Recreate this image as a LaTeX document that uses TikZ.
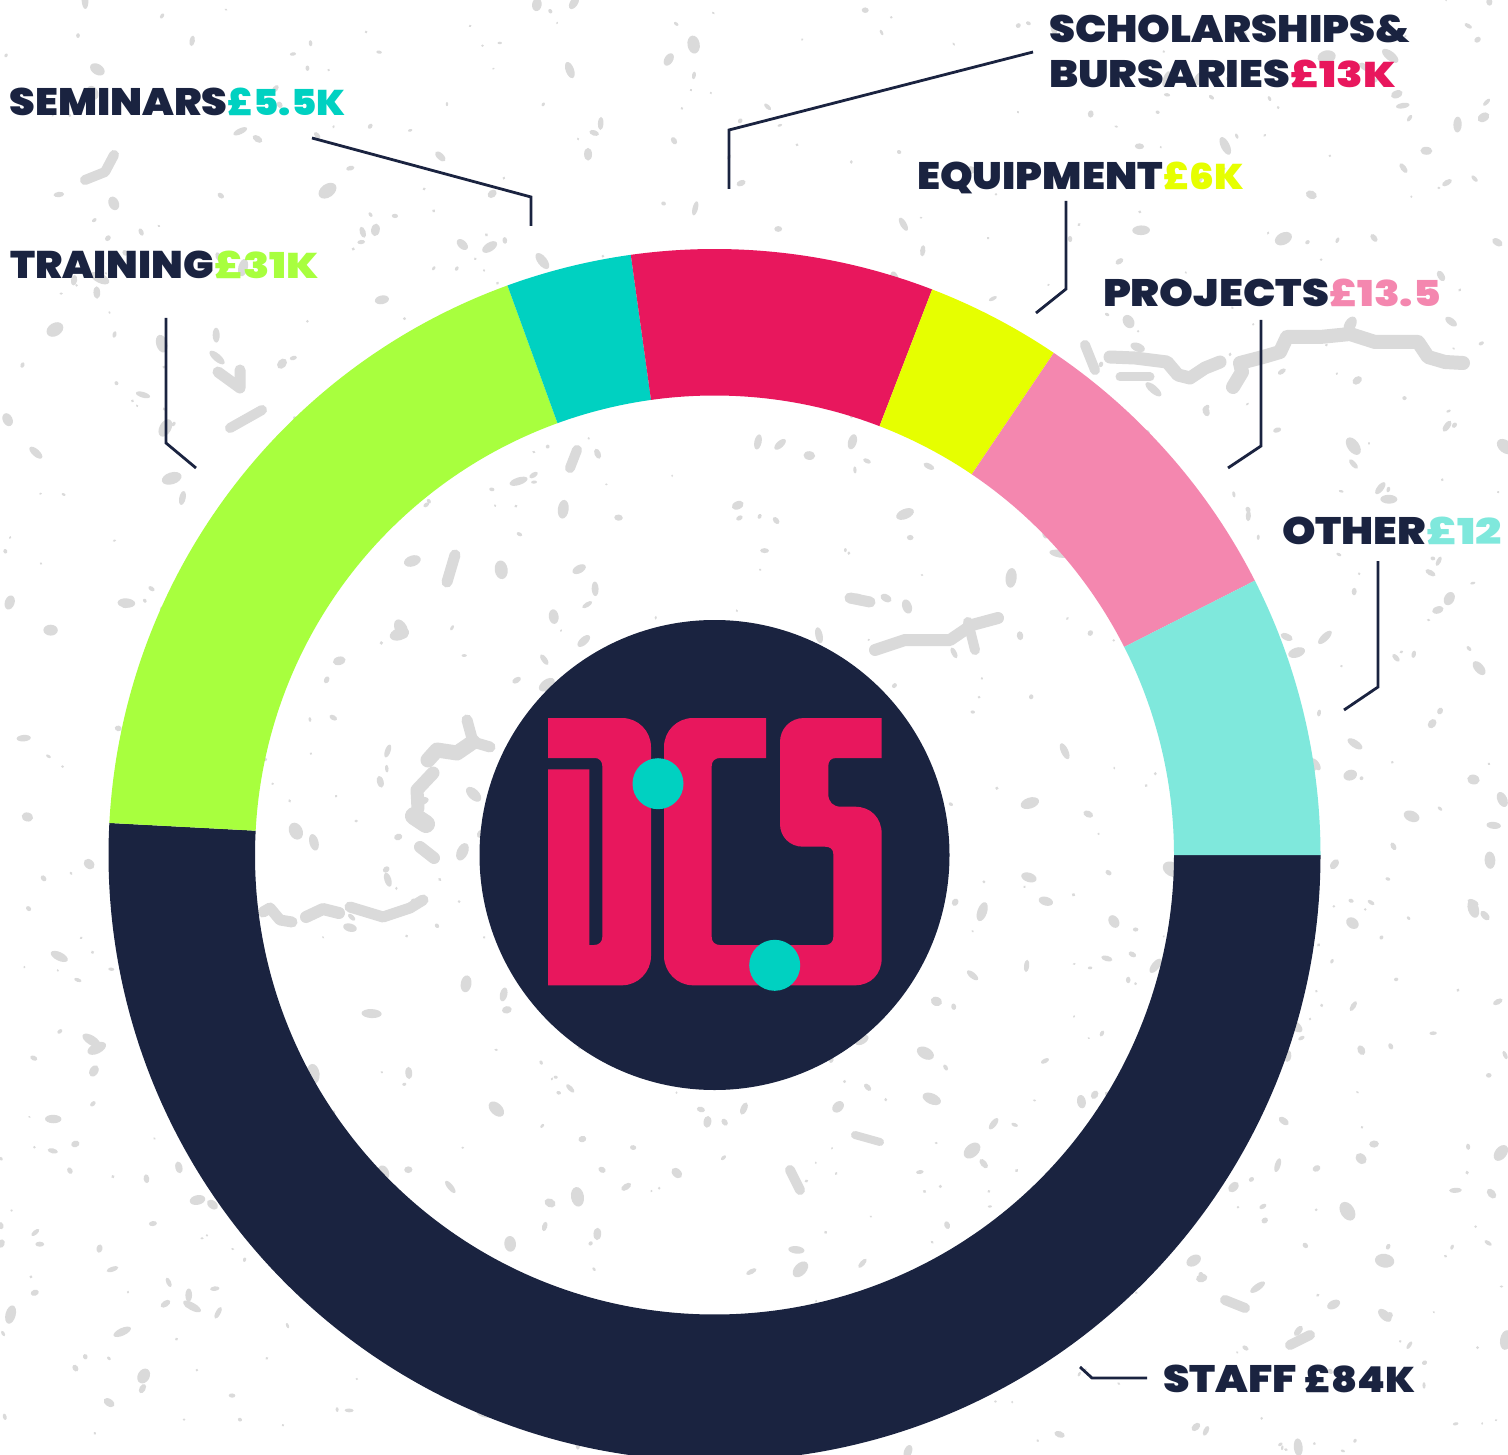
\documentclass[tikz,border=0pt]{standalone}
\usepackage{fontspec}
\usepackage{graphicx}
\newfontfamily\lab{Poppins Black}
\definecolor{navy}{HTML}{1A2340}
\definecolor{lime}{HTML}{A8FF3E}
\definecolor{teal2}{HTML}{00D1C1}
\definecolor{crim}{HTML}{E8175D}
\definecolor{yel}{HTML}{E6FF00}
\definecolor{pinky}{HTML}{F487AF}
\definecolor{aqua}{HTML}{7FE8DC}
\definecolor{speck}{HTML}{DADADA}
\newcommand{\seg}[3]{\fill[#1] (#2:606pt) arc[start angle=#2,end angle=#3,radius=606pt] -- (#3:459.5pt) arc[start angle=#3,end angle=#2,radius=459.5pt] -- cycle;}
\newcommand{\wbox}[3]{\textcolor{#3}{\resizebox{#1pt}{27.5pt}{\lab #2}}}
\tikzset{
  leader/.style={draw=navy,line width=2.8pt,line cap=butt,line join=miter},
  lbl/.style={anchor=base west,inner sep=0pt,outer sep=0pt},
  blob/.style={draw=speck,line cap=round,line join=round},
  dot/.style={circle,fill=teal2,inner sep=0pt,minimum size=51pt}
}
\begin{document}
\begin{tikzpicture}[x=1pt,y=-1pt]
\useasboundingbox (0,0) rectangle (1508,1455);
\fill[white] (0,0) rectangle (1508,1455);
\begin{scope}
\clip (0,0) rectangle (1508,1455);
% speckled background
\pgfmathsetseed{4711}
\foreach \i in {1,...,1000}{
  \pgfmathsetmacro{\px}{rnd*1508}
  \pgfmathsetmacro{\py}{rnd*1455}
  \pgfmathsetmacro{\ra}{1.3+pow(rnd,2.2)*9}
  \pgfmathsetmacro{\rb}{\ra*(0.3+rnd*0.4)+0.5}
  \pgfmathsetmacro{\rt}{rnd*180}
  \fill[speck,rotate around={\rt:(\px,\py)}] (\px,\py) ellipse[x radius=\ra pt,y radius=\rb pt];
}
% larger streaks
\draw[blob,line width=13pt] (1110,357) -- (1135,358) -- (1167,362) -- (1178,375) -- (1190,378) -- (1205,368) -- (1220,362);
\draw[blob,line width=9pt] (1120,377) -- (1150,377);
\draw[blob,line width=14pt] (1233,387) -- (1242,372) -- (1240,363) -- (1263,357) -- (1280,352) -- (1287,337) -- (1320,337) -- (1350,334) -- (1375,342) -- (1418,342) -- (1428,357) -- (1445,362) -- (1463,363);
\draw[blob,line width=11pt] (467,720) -- (473,742) -- (490,747);
\draw[blob,line width=15pt] (473,742) -- (457,753) -- (437,750) -- (428,760);
\draw[blob,line width=13pt] (433,773) -- (417,790) -- (418,808);
\draw[blob,line width=18pt] (414,816) -- (426,824);
\draw[blob,line width=12pt] (420,847) -- (434,858);
\draw[blob,line width=11pt] (263,912) -- (270,908) -- (280,920) -- (292,922);
\draw[blob,line width=12pt] (306,917) -- (323,909) -- (339,913);
\draw[blob,line width=11pt] (350,907) -- (383,917) -- (410,908) -- (423,900);
\draw[blob,line width=12pt] (875,650) -- (905,640) -- (950,640) -- (972,625) -- (998,618);
\draw[blob,line width=10pt] (968,622) -- (975,650);
\draw[blob,line width=11pt] (218,372) -- (240,388) -- (240,370);
\draw[blob,line width=10pt] (85,180) -- (105,172) -- (114,155);
\draw[blob,line width=11pt] (455,555) -- (447,582);
\draw[blob,line width=10pt] (230,428) -- (262,410);
\draw[blob,line width=11pt] (850,598) -- (870,602);
\draw[blob,line width=10pt] (577,450) -- (570,468);
\draw[blob,line width=10pt] (1085,345) -- (1095,370);
\draw[blob,line width=8pt] (855,1135) -- (880,1142);
\draw[blob,line width=10pt] (1225,1300) -- (1245,1308);
\draw[blob,line width=10pt] (790,1170) -- (800,1190);
\draw[blob,line width=10pt] (1290,1345) -- (1310,1335);
% ring
\begin{scope}[shift={(714.5,855)},y=1pt]
\seg{navy}{0}{-183.03}
\seg{lime}{176.97}{109.98}
\seg{teal2}{109.98}{97.94}
\seg{crim}{97.94}{68.95}
\seg{yel}{68.95}{55.95}
\seg{pinky}{55.95}{26.92}
\seg{aqua}{26.92}{0}
\end{scope}
\end{scope}
% hub
\node[circle,fill=navy,inner sep=0pt,minimum size=470pt] (hub) at (714.5,855) {};
% logo D
\fill[crim] (548,718) -- (622,718) .. controls (638,718) and (651,731) .. (651,747)
  -- (651,956) .. controls (651,972) and (638,985.3) .. (622,985.3) -- (548,985.3)
  -- (548,769.3) -- (589.3,769.3) -- (589.3,945) -- (594,945)
  .. controls (599,945) and (602.3,942) .. (602.3,937) -- (602.3,766)
  .. controls (602.3,761) and (599,758) .. (595,758) -- (548,758) -- cycle;
% logo C + S
\fill[crim] (693,718) -- (766,718) -- (766,758) -- (720,758)
  .. controls (715,758) and (711.7,761) .. (711.7,766) -- (711.7,937)
  .. controls (711.7,942) and (715,945) .. (720,945) -- (825,945)
  .. controls (830,945) and (833.3,942) .. (833.3,937) -- (833.3,854)
  .. controls (833.3,849) and (830,846.7) .. (825,846.7) -- (803,846.7)
  .. controls (790,846.7) and (780,837) .. (780,824) -- (780,742)
  .. controls (780,729) and (790,718) .. (804,718) -- (881.7,718) -- (881.7,758)
  -- (836,758) .. controls (831,758) and (828.3,761) .. (828.3,766) -- (828.3,794)
  .. controls (828.3,802) and (833,806.7) .. (841,806.7) -- (855,806.7)
  .. controls (871,806.7) and (881.7,818) .. (881.7,834) -- (881.7,958)
  .. controls (881.7,974) and (871,985.3) .. (855,985.3) -- (693,985.3)
  .. controls (677,985.3) and (664,972) .. (664,956) -- (664,747)
  .. controls (664,731) and (677,718) .. (693,718) -- cycle;
\node[dot] (dotA) at (658,783.7) {};
\node[dot] (dotB) at (774.7,965.3) {};
% leader points
\coordinate (sch1) at (1033,52); \coordinate (sch2) at (729,130); \coordinate (sch3) at (729,189);
\coordinate (sem1) at (312,138); \coordinate (sem2) at (531,197); \coordinate (sem3) at (531,226);
\coordinate (tra1) at (166,318); \coordinate (tra2) at (166,443); \coordinate (tra3) at (196,468);
\coordinate (equ1) at (1066,201); \coordinate (equ2) at (1066,289); \coordinate (equ3) at (1036,313);
\coordinate (pro1) at (1261,320); \coordinate (pro2) at (1261,446); \coordinate (pro3) at (1228,468);
\coordinate (oth1) at (1378,561); \coordinate (oth2) at (1378,687); \coordinate (oth3) at (1344,710);
\coordinate (sta1) at (1147,1378); \coordinate (sta2) at (1092,1378); \coordinate (sta3) at (1080,1367);
\draw[leader] (sch1) -- (sch2) -- (sch3);
\draw[leader] (sem1) -- (sem2) -- (sem3);
\draw[leader] (tra1) -- (tra2) -- (tra3);
\draw[leader] (equ1) -- (equ2) -- (equ3);
\draw[leader] (pro1) -- (pro2) -- (pro3);
\draw[leader] (oth1) -- (oth2) -- (oth3);
\draw[leader] (sta1) -- (sta2) -- (sta3);
% labels
\node[lbl] (schA) at (1049,43) {\wbox{361}{SCHOLARSHIPS\&}{navy}};
\node[lbl] (schB) at (1049,88) {\wbox{241}{BURSARIES}{navy}\wbox{106}{£13K}{crim}};
\node[lbl] (semL) at (9.5,116) {\wbox{218}{SEMINARS}{navy}\wbox{118}{£5.5K}{teal2}};
\node[lbl] (traL) at (10,279) {\wbox{204}{TRAINING}{navy}\wbox{105}{£31K}{lime}};
\node[lbl] (equL) at (917,190) {\wbox{246}{EQUIPMENT}{navy}\wbox{81}{£6K}{yel}};
\node[lbl] (proL) at (1103,307) {\wbox{226}{PROJECTS}{navy}\wbox{112}{£13.5}{pinky}};
\node[lbl] (othL) at (1282,544) {\wbox{144}{OTHER}{navy}\wbox{76}{£12}{aqua}};
\node[lbl] (staL) at (1163,1392) {\wbox{134}{STAFF}{navy}\hspace{7pt}\wbox{111}{£84K}{navy}};
\end{tikzpicture}
\end{document}
